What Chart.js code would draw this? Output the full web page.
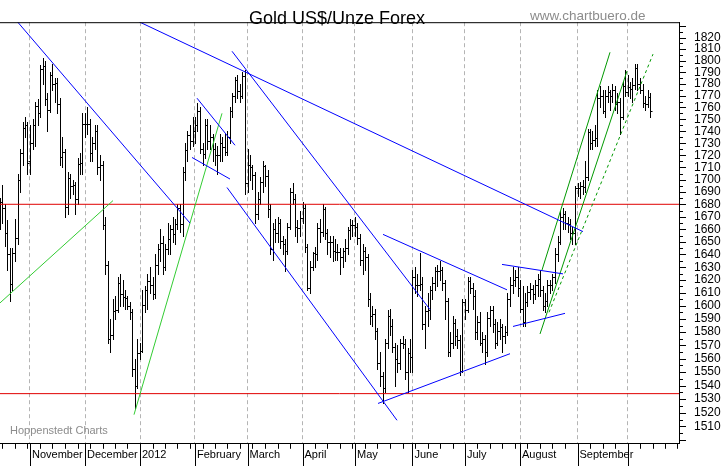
<!DOCTYPE html>
<html>
<head>
<meta charset="utf-8">
<script src="https://cdn.jsdelivr.net/npm/chart.js@4.4.0/dist/chart.umd.min.js"></script>
<style>
  html, body { margin: 0; padding: 0; background: #fff; }
  canvas { display: block; }
</style>
</head>
<body>
<canvas id="chart" width="723" height="466"></canvas>
<script>
// x = Handelstag-Index, 0 = 14.10.2011
const monthStarts = [12, 34, 56, 78, 99, 121, 142, 165, 186, 208, 231, 251];
const monthLabels = ['November', 'December', '2012', 'February', 'March', 'April', 'May', 'June', 'July', 'August', 'September', ''];
const priceLabels = [1510, 1520, 1530, 1540, 1550, 1560, 1570, 1580, 1590, 1600, 1610, 1620, 1630, 1640, 1650, 1660,
  1670, 1680, 1690, 1700, 1710, 1720, 1730, 1740, 1750, 1760, 1770, 1780, 1790, 1800, 1810, 1820];

const opens = [
  1665,1682,1677,1657,1640,1617,1641,1653,1700,1722,1743,1745,
  1715,1730,1745,1761,1755,1793,1795,1767,1758,1788,1780,1781,1763,1719,1723,1678,1701,1695,1696,1684,1713,1714,
  1746,1746,1746,1722,1730,1740,1710,1712,1663,1632,1575,1578,1596,1597,1618,1609,1607,1606,1600,1595,1552,1540,
  1564,1566,1601,1612,1619,1616,1609,1632,1644,1649,1630,1644,1652,1660,1656,1664,1677,1664,1706,1724,1737,1732,
  1740,1745,1757,1725,1721,1745,1732,1735,1725,1720,1720,1730,1727,1723,1735,1757,1770,1783,1774,1770,1787,
  1697,1712,1710,1704,1672,1684,1698,1711,1703,1676,1644,1660,1657,1665,1651,1648,1643,1662,1690,1684,1662,1661,
  1669,1677,1646,1614,1630,1641,1640,1661,1658,1676,1657,1650,1650,1643,1642,1642,1638,1643,1645,1659,1663,
  1663,1662,1653,1636,1643,1638,1605,1592,1594,1581,1557,1547,1538,1572,1592,1585,1569,1560,1557,1572,1571,1550,1564,
  1561,1622,1616,1616,1617,1586,1596,1597,1612,1618,1627,1627,1628,1618,1604,1565,1572,1587,1577,1574,1551,
  1603,1597,1619,1614,1608,1580,1588,1572,1575,1565,1591,1597,1586,1572,1581,1584,1577,1580,1605,1616,1620,1622,
  1614,1598,1588,1603,1611,1613,1609,1616,1621,1612,1600,1604,1616,1616,1622,1640,1650,1670,1672,1665,1664,1657,1657,
  1693,1693,1695,1694,1702,1739,1730,1733,1734,1768,1770,1757,1770,1773,1770,1775,1763,1765,1752,1778,
  1773,1777,1776,1779,1794,1780,1775,1764,1763,1769
];
const highs = [
  1685,1696,1680,1667,1645,1645,1668,1705,1725,1748,1752,1748,
  1745,1750,1765,1767,1796,1802,1800,1772,1790,1797,1785,1785,1768,1735,1725,1706,1705,1700,1698,1718,1722,1755,
  1755,1760,1750,1735,1745,1745,1720,1715,1670,1635,1590,1605,1608,1622,1625,1620,1612,1608,1603,1598,1560,1575,
  1572,1612,1615,1625,1630,1622,1640,1648,1660,1655,1648,1665,1663,1670,1668,1680,1680,1710,1730,1740,1745,1752,
  1752,1764,1760,1730,1750,1750,1745,1738,1730,1728,1738,1735,1738,1740,1760,1772,1786,1788,1780,1790,1792,
  1725,1720,1712,1706,1690,1702,1715,1712,1708,1680,1665,1668,1670,1668,1655,1652,1665,1693,1697,1688,1667,1675,
  1682,1680,1648,1635,1642,1646,1665,1668,1680,1678,1660,1655,1655,1652,1648,1645,1645,1652,1662,1668,1667,
  1670,1665,1656,1648,1646,1640,1610,1600,1598,1583,1565,1550,1575,1597,1598,1590,1572,1570,1575,1577,1575,1568,1575,
  1628,1630,1625,1641,1622,1600,1610,1615,1622,1630,1632,1635,1630,1620,1606,1580,1592,1590,1582,1578,1605,
  1605,1622,1622,1618,1612,1592,1595,1580,1578,1595,1600,1600,1590,1588,1590,1586,1585,1610,1622,1630,1628,1630,
  1620,1615,1610,1615,1618,1616,1620,1625,1628,1615,1610,1620,1620,1625,1645,1655,1675,1677,1675,1670,1668,1662,1695,
  1697,1698,1700,1715,1742,1742,1740,1745,1775,1778,1775,1775,1778,1775,1780,1778,1772,1768,1782,1792,
  1788,1782,1785,1797,1797,1785,1780,1770,1775,1772
];
const lows = [
  1660,1665,1647,1628,1604,1612,1635,1648,1690,1712,1735,1705,
  1705,1725,1728,1745,1752,1780,1762,1740,1756,1775,1765,1755,1712,1710,1670,1672,1685,1688,1672,1680,1705,1705,
  1735,1738,1715,1715,1725,1705,1700,1660,1625,1572,1565,1575,1590,1595,1600,1600,1598,1598,1590,1547,1523,1538,
  1560,1565,1595,1598,1610,1605,1606,1625,1635,1625,1628,1640,1640,1650,1648,1660,1658,1655,1700,1715,1725,1728,
  1730,1740,1722,1712,1718,1725,1725,1715,1712,1705,1715,1715,1720,1720,1730,1752,1765,1768,1765,1768,1688,
  1690,1700,1692,1665,1668,1680,1690,1695,1670,1640,1636,1650,1650,1645,1640,1627,1640,1660,1680,1655,1650,1655,
  1665,1642,1612,1610,1628,1630,1636,1650,1655,1652,1640,1638,1635,1636,1636,1625,1630,1635,1640,1652,1655,
  1655,1648,1632,1625,1628,1600,1586,1585,1575,1552,1540,1527,1535,1568,1578,1565,1540,1550,1552,1568,1545,1535,1550,
  1550,1610,1608,1612,1582,1568,1585,1590,1605,1612,1615,1620,1612,1590,1562,1562,1568,1570,1568,1548,1550,
  1590,1595,1610,1598,1575,1575,1570,1565,1556,1562,1585,1580,1568,1570,1575,1565,1572,1578,1600,1610,1615,1608,
  1595,1585,1585,1600,1605,1602,1605,1608,1608,1597,1595,1600,1610,1612,1618,1635,1648,1660,1660,1658,1652,1648,1648,
  1687,1685,1688,1690,1700,1725,1725,1728,1728,1760,1755,1752,1765,1758,1765,1758,1755,1738,1750,1770,
  1770,1768,1765,1776,1775,1772,1760,1758,1760,1752
];
const closes = [
  1682,1677,1657,1640,1617,1641,1653,1700,1722,1743,1745,1714,
  1730,1745,1761,1755,1793,1795,1767,1758,1788,1780,1781,1763,1719,1723,1678,1701,1695,1696,1684,1713,1714,1746,
  1746,1746,1722,1730,1740,1710,1712,1663,1632,1575,1578,1596,1597,1618,1609,1607,1606,1600,1595,1552,1540,1564,
  1566,1601,1612,1619,1616,1609,1632,1644,1649,1630,1644,1652,1660,1656,1664,1677,1664,1706,1724,1737,1732,1740,
  1745,1757,1725,1721,1745,1732,1735,1725,1720,1720,1730,1727,1723,1735,1757,1770,1783,1774,1770,1787,1697,
  1712,1710,1704,1672,1684,1698,1711,1703,1676,1644,1660,1657,1665,1651,1648,1643,1662,1690,1684,1662,1661,1669,
  1677,1646,1614,1630,1641,1640,1661,1658,1676,1657,1650,1650,1643,1642,1642,1638,1643,1645,1659,1663,1663,
  1662,1653,1636,1643,1638,1605,1592,1594,1581,1557,1547,1538,1572,1592,1585,1569,1560,1557,1572,1571,1550,1564,1561,
  1622,1616,1616,1617,1586,1596,1597,1612,1618,1627,1627,1628,1618,1604,1565,1572,1587,1577,1574,1551,1603,
  1597,1619,1614,1608,1580,1588,1572,1575,1565,1591,1597,1586,1572,1581,1584,1577,1580,1605,1616,1620,1622,1614,
  1598,1588,1603,1611,1613,1609,1616,1621,1612,1600,1604,1616,1616,1622,1640,1650,1670,1672,1665,1664,1657,1657,1693,
  1693,1695,1694,1702,1739,1730,1733,1734,1768,1770,1757,1770,1773,1770,1775,1763,1765,1752,1778,1773,
  1777,1776,1779,1794,1780,1775,1764,1763,1769,1757
];

// horizontale Linien (Widerstand / Unterstützung)
const levels = [1680, 1534];
// Trendlinien: [x1, kurs1, x2, kurs2]
const blueLines = [
  [6.8, 1834.3, 76, 1664.9],
  [55.2, 1834.3, 233.2, 1658.1],
  [92.8, 1808.1, 172, 1597.2],
  [90.8, 1693.6, 158.8, 1514.5],
  [78.8, 1767.8, 94, 1728.3],
  [76.8, 1718.2, 92, 1700.5],
  [153.2, 1655.9, 202.8, 1612.4],
  [151.2, 1526.8, 204, 1563.7],
  [200.8, 1632.2, 225.2, 1624.8],
  [205.2, 1584.3, 226, 1594.3]
];
const greenLines = [
  [0, 1602.3, 45.2, 1683.0],
  [53.6, 1518.6, 88.8, 1755.0]
];
const darkGreenLines = [
  [216.8, 1627.8, 244, 1807.2],
  [216, 1578.6, 250.8, 1791.0]
];
const dottedLines = [
  [219.6, 1595.1, 261.2, 1805.6]
];

const X_MAX = 271.6;
const FONT = "'Liberation Sans', Arial, sans-serif";

function segment(p, color, dash) {
  return {
    type: 'line',
    data: [{ x: p[0], y: p[1] }, { x: p[2], y: p[3] }],
    borderColor: color,
    borderWidth: 1,
    borderDash: dash || [],
    pointRadius: 0,
    tension: 0,
    fill: false
  };
}

const datasets = [];
blueLines.forEach(p => datasets.push(segment(p, '#0000ff')));
greenLines.forEach(p => datasets.push(segment(p, '#33cc33')));
darkGreenLines.forEach(p => datasets.push(segment(p, '#009900')));
dottedLines.forEach(p => datasets.push(segment(p, '#009900', [3, 3])));
levels.forEach(v => datasets.push(segment([0, v, X_MAX, v], '#e00000')));

// OHLC-Balken über die Skalen zeichnen
const ohlcBars = {
  id: 'ohlcBars',
  beforeDatasetsDraw(chart) {
    const { ctx, chartArea: a, scales: { x, y } } = chart;
    ctx.save();
    ctx.beginPath();
    ctx.rect(a.left, a.top, a.right - a.left, a.bottom - a.top);
    ctx.clip();
    ctx.strokeStyle = '#000';
    ctx.lineWidth = 1;
    ctx.beginPath();
    for (let i = 0; i < closes.length; i++) {
      const px = Math.round(x.getPixelForValue(i)) + 0.5;
      const hi = Math.round(y.getPixelForValue(highs[i]));
      const lo = Math.round(y.getPixelForValue(lows[i]));
      const op = Math.round(y.getPixelForValue(opens[i])) + 0.5;
      const cl = Math.round(y.getPixelForValue(closes[i])) + 0.5;
      ctx.moveTo(px, hi);
      ctx.lineTo(px, lo + 1);
      ctx.moveTo(px - 2, op);
      ctx.lineTo(px, op);
      ctx.moveTo(px, cl);
      ctx.lineTo(px + 2, cl);
    }
    ctx.stroke();
    ctx.restore();
  }
};

// Achsenstriche, Rahmen und Beschriftungen
const decorations = {
  id: 'decorations',
  afterDraw(chart) {
    const { ctx, chartArea: a, scales: { x, y } } = chart;
    ctx.save();
    ctx.strokeStyle = '#000';
    ctx.lineWidth = 1;
    ctx.beginPath();
    ctx.moveTo(a.left, a.top + 0.5);
    ctx.lineTo(a.right + 1, a.top + 0.5);
    for (let i = 1; i <= X_MAX; i += 5) {
      const px = Math.round(x.getPixelForValue(i)) + 0.5;
      ctx.moveTo(px, a.bottom);
      ctx.lineTo(px, a.bottom + 5);
    }
    monthStarts.forEach(m => {
      const px = Math.round(x.getPixelForValue(m)) + 0.5;
      ctx.moveTo(px, a.bottom);
      ctx.lineTo(px, chart.height);
    });
    for (let v = 1500; v <= 1830; v += 5) {
      const py = Math.round(y.getPixelForValue(v)) + 0.5;
      ctx.moveTo(a.right, py);
      ctx.lineTo(a.right + (v % 10 === 0 ? 7 : 4), py);
    }
    ctx.stroke();

    ctx.fillStyle = '#000';
    ctx.font = '18px ' + FONT;
    ctx.textAlign = 'center';
    ctx.textBaseline = 'alphabetic';
    ctx.fillText('Gold US$/Unze Forex', 337, 24);

    ctx.fillStyle = '#8c8c8c';
    ctx.textAlign = 'left';
    ctx.font = '13.5px ' + FONT;
    ctx.fillText('www.chartbuero.de', 530, 20);
    ctx.font = '11px ' + FONT;
    ctx.fillText('Hoppenstedt Charts', 10, 434);
    ctx.restore();
  }
};

new Chart(document.getElementById('chart'), {
  type: 'line',
  data: { datasets },
  plugins: [ohlcBars, decorations],
  options: {
    responsive: false,
    animation: false,
    events: [],
    layout: { padding: { top: 1, left: 0, right: 0, bottom: 0 }, autoPadding: false },
    plugins: { legend: { display: false }, tooltip: { enabled: false }, title: { display: false } },
    scales: {
      x: {
        type: 'linear',
        min: 0,
        max: X_MAX,
        afterFit: s => { s.height = 16; },
        afterBuildTicks: s => { s.ticks = monthStarts.map(v => ({ value: v })); },
        grid: { display: true, drawOnChartArea: true, drawTicks: false, color: '#b4b4b4', lineWidth: 1 },
        border: { display: true, color: '#000', width: 1, dash: [4, 3] },
        ticks: {
          autoSkip: false,
          maxRotation: 0,
          align: 'start',
          labelOffset: 2,
          padding: 5,
          color: '#000',
          font: { family: FONT, size: 11 },
          callback: (v, i) => monthLabels[i]
        }
      },
      y: {
        type: 'logarithmic',
        position: 'right',
        min: 1497.5,
        max: 1833.5,
        afterFit: s => { s.width = 44; },
        afterBuildTicks: s => { s.ticks = priceLabels.map(v => ({ value: v })); },
        grid: { display: false, drawTicks: false },
        border: { display: true, color: '#000', width: 1 },
        ticks: {
          autoSkip: false,
          padding: 15,
          color: '#000',
          font: { family: FONT, size: 12 },
          callback: v => String(v)
        }
      }
    }
  }
});
</script>
</body>
</html>
